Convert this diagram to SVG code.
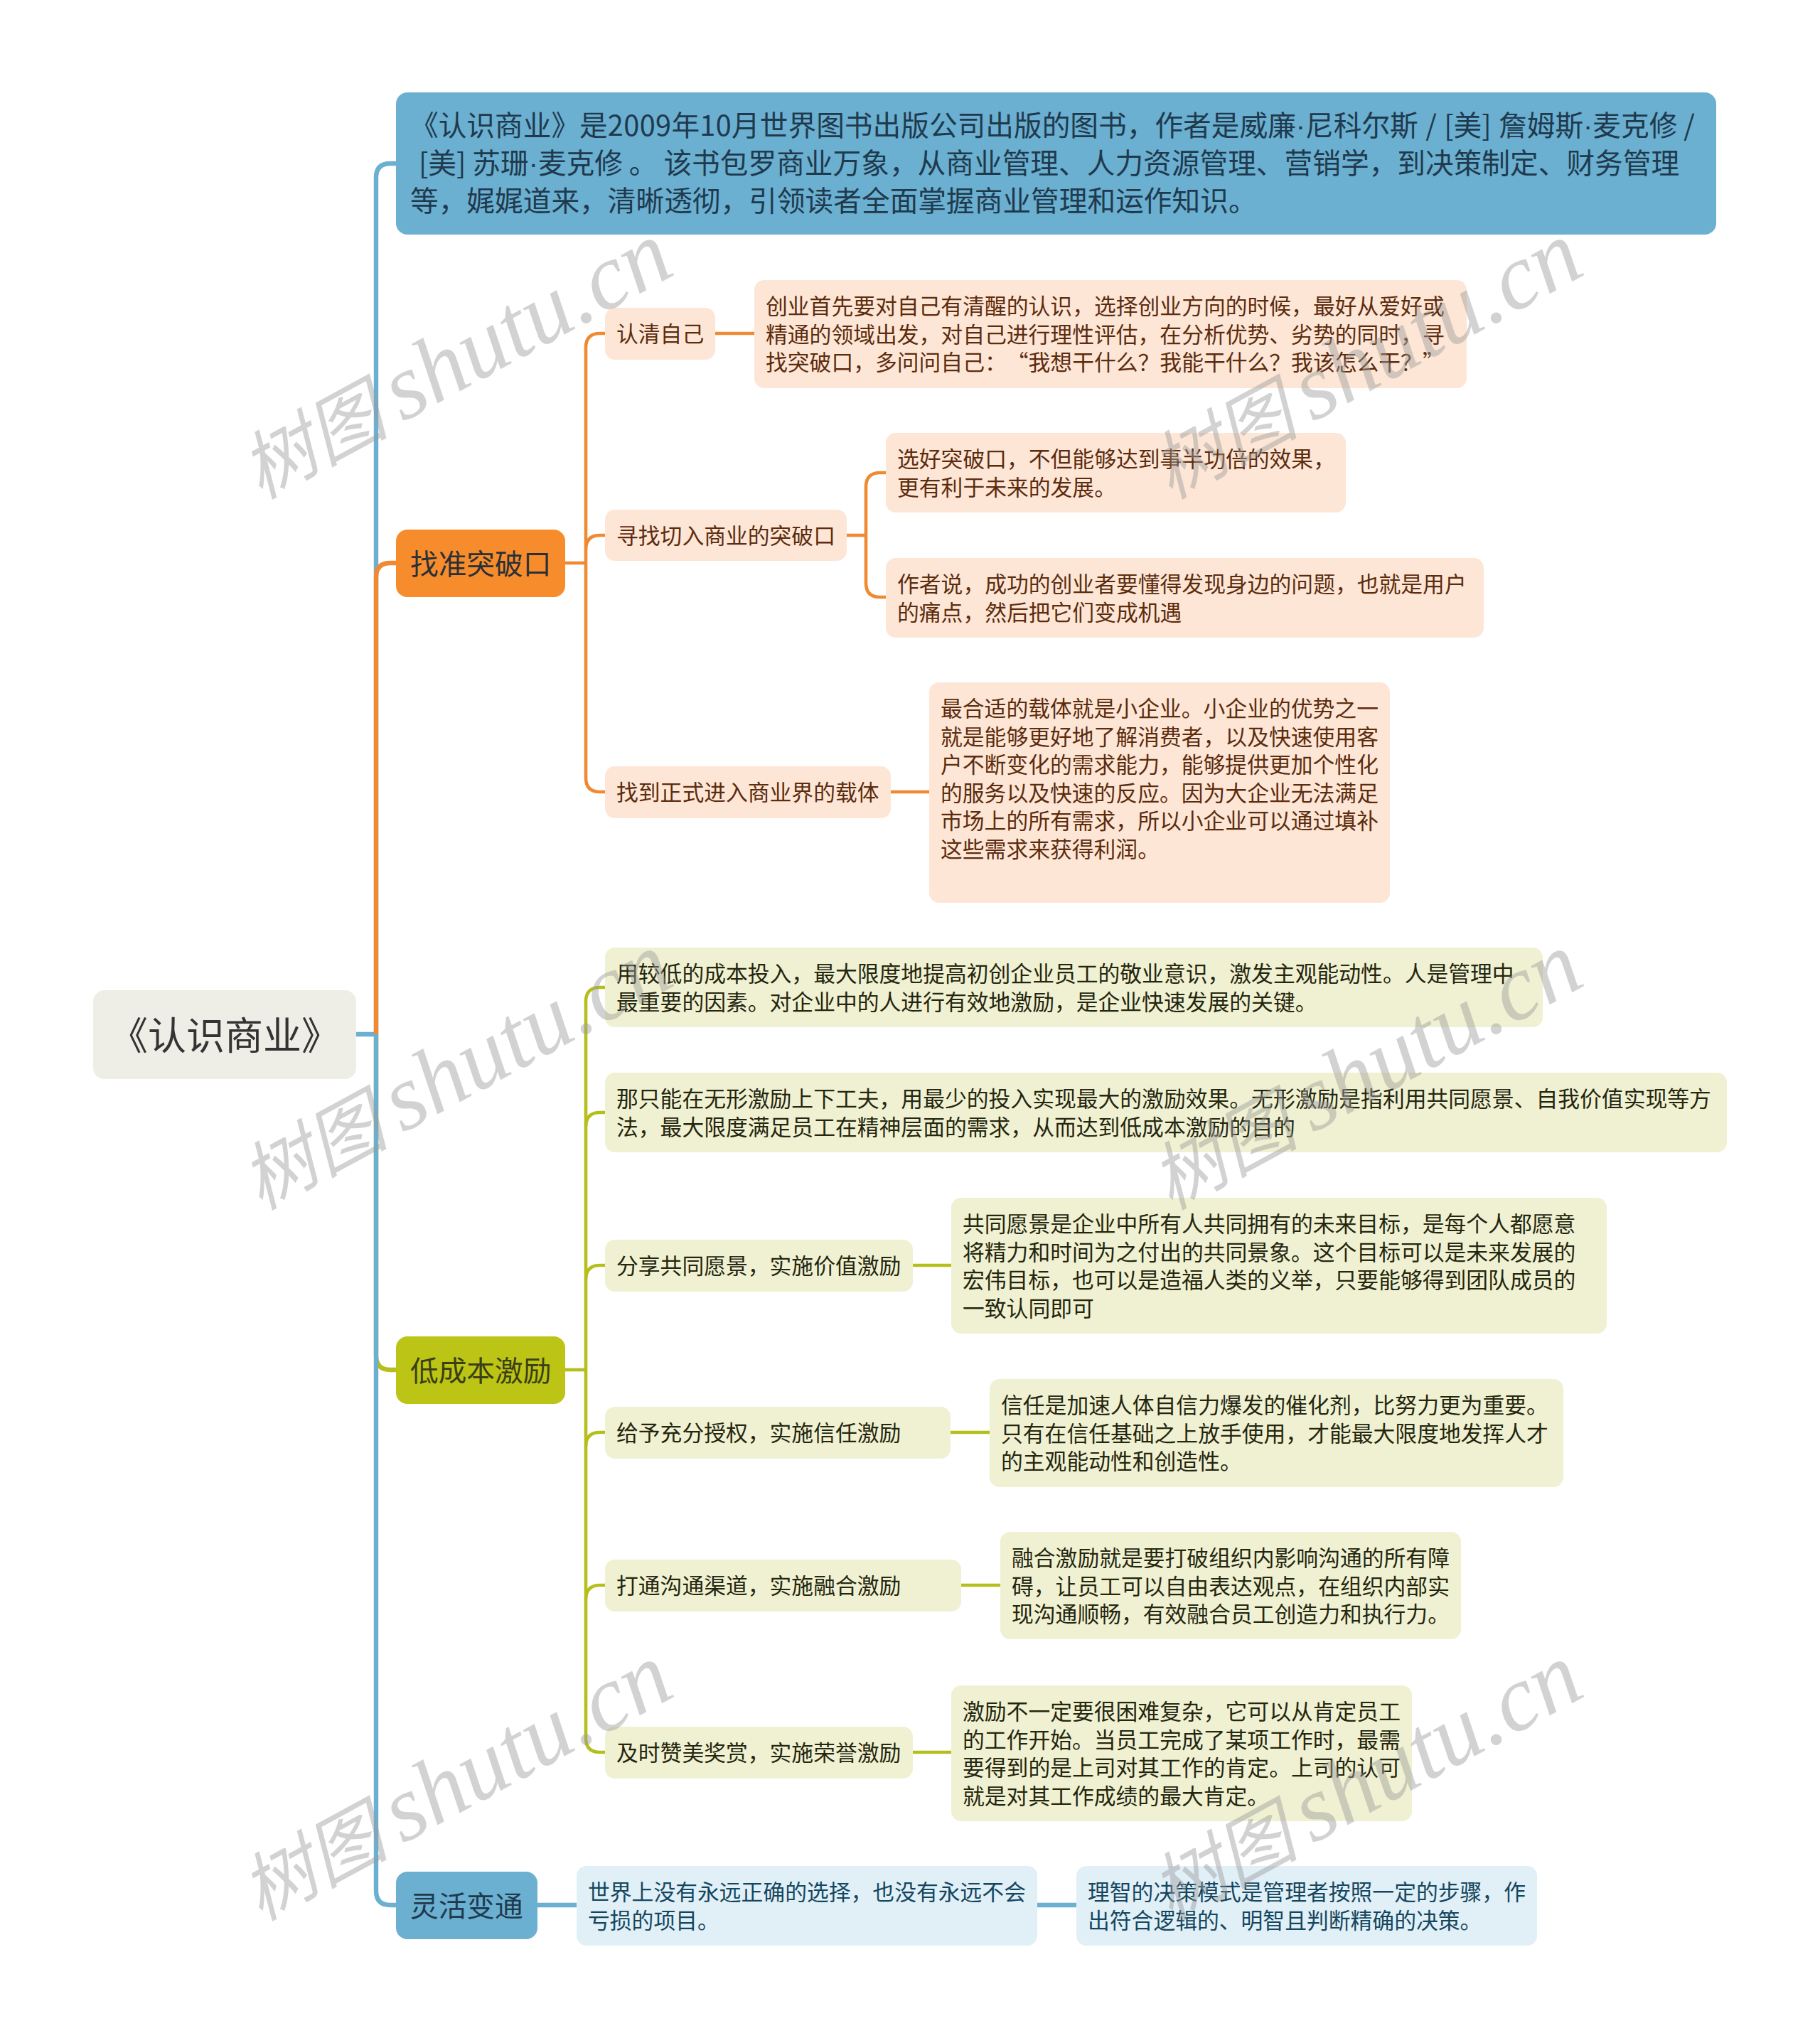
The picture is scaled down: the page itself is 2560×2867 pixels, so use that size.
<svg xmlns="http://www.w3.org/2000/svg" width="2560" height="2867" viewBox="0 0 2560 2867" xml:lang="zh-CN">
<style>
text{font-family:"Noto Sans CJK SC","Noto Sans",sans-serif;white-space:pre;text-spacing-trim:space-all}
.c{fill:none;stroke-linejoin:round}
.m{stroke-width:6.4}
.s{stroke-width:4.6}
.blue{stroke:#6bafd1}.org{stroke:#f08a32}.grn{stroke:#b5bf1c}
.t{font-size:30.8px;transform:translateY(1px)}
.b{font-size:39.7px;fill:#2b3036;transform:translateY(1px)}
.dot{font-family:"Liberation Sans",sans-serif}
.num{letter-spacing:.4px}
.wide{word-spacing:1.5px}
.ot{fill:#5c2c0e}.gt{fill:#24260f}.bt{fill:#14475f}
.of{fill:#fde6d6}.gf{fill:#f0f1d2}.bf{fill:#e1eff7}
.wm{font-family:"Liberation Serif","Noto Sans CJK SC",serif;font-style:italic;font-size:131px;fill:#9c9c9c;fill-opacity:.45}
.wc{font-size:104px}.ws{font-size:80px}
</style>
<rect width="2560" height="2867" fill="#fff"/>
<g id="connectors">
<path class="c m grn" d="M529 1455V1907Q529 1927 549 1927H557"/>
<path class="c m blue" d="M501 1455H529V250Q529 230 549 230H557"/>
<path class="c m blue" d="M529 1455V2660Q529 2680 549 2680H557"/>
<path class="c m org" d="M529 1455V812Q529 792 549 792H557"/>
<path class="c s org" d="M795 792H824"/>
<path class="c s org" d="M851 469H844Q824 469 824 489V1094Q824 1114 844 1114H851"/>
<path class="c s org" d="M824 773Q824 753 844 753H851"/>
<path class="c s org" d="M1006 469H1061"/>
<path class="c s org" d="M1190 753H1218"/>
<path class="c s org" d="M1246 665H1238Q1218 665 1218 685V820Q1218 840 1238 840H1246"/>
<path class="c s org" d="M1251 1114H1307"/>
<path class="c s grn" d="M795 1927H824"/>
<path class="c s grn" d="M851 1389H844Q824 1389 824 1409V2445Q824 2465 844 2465H851"/>
<path class="c s grn" d="M824 1585Q824 1565 844 1565H851"/>
<path class="c s grn" d="M824 1800Q824 1780 844 1780H851"/>
<path class="c s grn" d="M824 2035Q824 2015 844 2015H851"/>
<path class="c s grn" d="M824 2250Q824 2230 844 2230H851"/>
<path class="c s grn" d="M1282 1780H1338"/>
<path class="c s grn" d="M1336 2015H1392"/>
<path class="c s grn" d="M1351 2230H1407"/>
<path class="c s grn" d="M1282 2465H1339"/>
<path class="c m blue" d="M756 2680H811"/>
<path class="c m blue" d="M1458 2680H1514"/>
</g>
<g id="root"><rect x="131" y="1393" width="370" height="125" rx="16" fill="#eeeee6"/><text x="154" y="1477" font-size="54" fill="#333">《认识商业》</text></g>
<g id="intro"><rect x="557" y="130" width="1857" height="200" rx="16" fill="#6bafd1"/>
<text class="b" style="fill:#1f3a4d"><tspan x="577" y="190">《认识商业》是<tspan class="num">2009</tspan>年<tspan class="num">10</tspan>月世界图书出版公司出版的图书，作者是威廉<tspan class="dot">·</tspan>尼科尔斯<tspan class="wide"> / [美] </tspan>詹姆斯<tspan class="dot">·</tspan>麦克修 /</tspan><tspan x="580" y="243"> [美] 苏珊<tspan class="dot">·</tspan>麦克修 。 该书包罗商业万象，从商业管理、人力资源管理、营销学，到决策制定、财务管理</tspan><tspan x="577" y="296">等，娓娓道来，清晰透彻，引领读者全面掌握商业管理和运作知识。</tspan></text></g>
<g id="branch1"><rect x="557" y="745" width="238" height="95" rx="16" fill="#f78c2d"/><text class="b" x="577" y="807">找准突破口</text></g>
<g id="b1-1"><rect class="of" x="851" y="433" width="155" height="73" rx="14"/><text class="t ot" x="867" y="480">认清自己</text></g>
<g id="b1-1-1"><rect class="of" x="1061" y="394" width="1002" height="152" rx="14"/><text class="t ot"><tspan x="1077" y="441">创业首先要对自己有清醒的认识，选择创业方向的时候，最好从爱好或</tspan><tspan x="1077" y="480.6">精通的领域出发，对自己进行理性评估，在分析优势、劣势的同时，寻</tspan><tspan x="1077" y="520.2">找突破口，多问问自己：“我想干什么？我能干什么？我该怎么干？”</tspan></text></g>
<g id="b1-2"><rect class="of" x="851" y="717" width="340" height="72" rx="14"/><text class="t ot" x="867" y="764">寻找切入商业的突破口</text></g>
<g id="b1-2-1"><rect class="of" x="1246" y="609" width="647" height="112" rx="14"/><text class="t ot"><tspan x="1262" y="656">选好突破口，不但能够达到事半功倍的效果，</tspan><tspan x="1262" y="695.6">更有利于未来的发展。</tspan></text></g>
<g id="b1-2-2"><rect class="of" x="1246" y="785" width="841" height="112" rx="14"/><text class="t ot"><tspan x="1262" y="832">作者说，成功的创业者要懂得发现身边的问题，也就是用户</tspan><tspan x="1262" y="871.6">的痛点，然后把它们变成机遇</tspan></text></g>
<g id="b1-3"><rect class="of" x="851" y="1078" width="402" height="73" rx="14"/><text class="t ot" x="867" y="1125">找到正式进入商业界的载体</text></g>
<g id="b1-3-1"><rect class="of" x="1307" y="960" width="648" height="310" rx="14"/><text class="t ot"><tspan x="1323" y="1007">最合适的载体就是小企业。小企业的优势之一</tspan><tspan x="1323" y="1046.6">就是能够更好地了解消费者，以及快速使用客</tspan><tspan x="1323" y="1086.2">户不断变化的需求能力，能够提供更加个性化</tspan><tspan x="1323" y="1125.8">的服务以及快速的反应。因为大企业无法满足</tspan><tspan x="1323" y="1165.4">市场上的所有需求，所以小企业可以通过填补</tspan><tspan x="1323" y="1205">这些需求来获得利润。</tspan></text></g>
<g id="branch2"><rect x="557" y="1880" width="238" height="95" rx="16" fill="#bcc415"/><text class="b" x="577" y="1942" style="fill:#3a3f14">低成本激励</text></g>
<g id="b2-1"><rect class="gf" x="851" y="1333" width="1319" height="112" rx="14"/><text class="t gt"><tspan x="867" y="1380">用较低的成本投入，最大限度地提高初创企业员工的敬业意识，激发主观能动性。人是管理中</tspan><tspan x="867" y="1419.6">最重要的因素。对企业中的人进行有效地激励，是企业快速发展的关键。</tspan></text></g>
<g id="b2-2"><rect class="gf" x="851" y="1509" width="1578" height="112" rx="14"/><text class="t gt"><tspan x="867" y="1556">那只能在无形激励上下工夫，用最少的投入实现最大的激励效果。无形激励是指利用共同愿景、自我价值实现等方</tspan><tspan x="867" y="1595.6">法，最大限度满足员工在精神层面的需求，从而达到低成本激励的目的</tspan></text></g>
<g id="b2-3"><rect class="gf" x="851" y="1744" width="433" height="73" rx="14"/><text class="t gt" x="867" y="1791">分享共同愿景，实施价值激励</text></g>
<g id="b2-3-1"><rect class="gf" x="1338" y="1685" width="922" height="191" rx="14"/><text class="t gt"><tspan x="1354" y="1732">共同愿景是企业中所有人共同拥有的未来目标，是每个人都愿意</tspan><tspan x="1354" y="1771.6">将精力和时间为之付出的共同景象。这个目标可以是未来发展的</tspan><tspan x="1354" y="1811.2">宏伟目标，也可以是造福人类的义举，只要能够得到团队成员的</tspan><tspan x="1354" y="1850.8">一致认同即可</tspan></text></g>
<g id="b2-4"><rect class="gf" x="851" y="1979" width="486" height="73" rx="14"/><text class="t gt" x="867" y="2026">给予充分授权，实施信任激励</text></g>
<g id="b2-4-1"><rect class="gf" x="1392" y="1940" width="807" height="152" rx="14"/><text class="t gt"><tspan x="1408" y="1987">信任是加速人体自信力爆发的催化剂，比努力更为重要。</tspan><tspan x="1408" y="2026.6">只有在信任基础之上放手使用，才能最大限度地发挥人才</tspan><tspan x="1408" y="2066.2">的主观能动性和创造性。</tspan></text></g>
<g id="b2-5"><rect class="gf" x="851" y="2194" width="501" height="73" rx="14"/><text class="t gt" x="867" y="2241">打通沟通渠道，实施融合激励</text></g>
<g id="b2-5-1"><rect class="gf" x="1407" y="2155" width="648" height="151" rx="14"/><text class="t gt"><tspan x="1423" y="2202">融合激励就是要打破组织内影响沟通的所有障</tspan><tspan x="1423" y="2241.6">碍，让员工可以自由表达观点，在组织内部实</tspan><tspan x="1423" y="2281.2">现沟通顺畅，有效融合员工创造力和执行力。</tspan></text></g>
<g id="b2-6"><rect class="gf" x="851" y="2429" width="433" height="73" rx="14"/><text class="t gt" x="867" y="2476">及时赞美奖赏，实施荣誉激励</text></g>
<g id="b2-6-1"><rect class="gf" x="1338" y="2371" width="648" height="191" rx="14"/><text class="t gt"><tspan x="1354" y="2418">激励不一定要很困难复杂，它可以从肯定员工</tspan><tspan x="1354" y="2457.6">的工作开始。当员工完成了某项工作时，最需</tspan><tspan x="1354" y="2497.2">要得到的是上司对其工作的肯定。上司的认可</tspan><tspan x="1354" y="2536.8">就是对其工作成绩的最大肯定。</tspan></text></g>
<g id="branch3"><rect x="557" y="2633" width="199" height="95" rx="16" fill="#6bafd1"/><text class="b" x="577" y="2695" style="fill:#1f3a4d">灵活变通</text></g>
<g id="b3-1"><rect class="bf" x="811" y="2625" width="648" height="112" rx="14"/><text class="t bt"><tspan x="827" y="2672">世界上没有永远正确的选择，也没有永远不会</tspan><tspan x="827" y="2711.6">亏损的项目。</tspan></text></g>
<g id="b3-2"><rect class="bf" x="1514" y="2625" width="648" height="112" rx="14"/><text class="t bt"><tspan x="1530" y="2672">理智的决策模式是管理者按照一定的步骤，作</tspan><tspan x="1530" y="2711.6">出符合逻辑的、明智且判断精确的决策。</tspan></text></g>
<g id="watermark">
<text class="wm" transform="translate(366 703) rotate(-28.5)"><tspan class="wc">树图</tspan><tspan class="ws"> </tspan>shutu.cn</text>
<text class="wm" transform="translate(1646 703) rotate(-28.5)"><tspan class="wc">树图</tspan><tspan class="ws"> </tspan>shutu.cn</text>
<text class="wm" transform="translate(366 1703) rotate(-28.5)"><tspan class="wc">树图</tspan><tspan class="ws"> </tspan>shutu.cn</text>
<text class="wm" transform="translate(1646 1703) rotate(-28.5)"><tspan class="wc">树图</tspan><tspan class="ws"> </tspan>shutu.cn</text>
<text class="wm" transform="translate(366 2703) rotate(-28.5)"><tspan class="wc">树图</tspan><tspan class="ws"> </tspan>shutu.cn</text>
<text class="wm" transform="translate(1646 2703) rotate(-28.5)"><tspan class="wc">树图</tspan><tspan class="ws"> </tspan>shutu.cn</text>
</g>
</svg>
